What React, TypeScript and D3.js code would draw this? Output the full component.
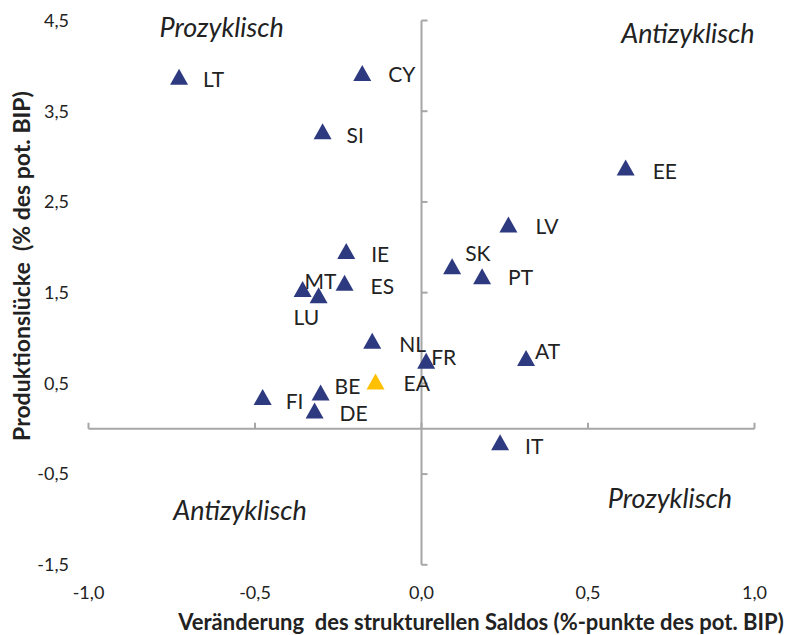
import * as d3 from "d3"

// country codes, x = change of structural balance, y = output gap
const countries = ["LT", "CY", "SI", "EE", "LV", "IE", "SK", "PT", "ES", "MT", "LU", "NL", "FR", "AT", "EA", "BE", "FI", "DE", "IT"]
const saldoChange = [-0.728, -0.178, -0.297, 0.613, 0.261, -0.226, 0.092, 0.182, -0.231, -0.357, -0.309, -0.148, 0.014, 0.314, -0.138, -0.303, -0.477, -0.321, 0.236]
const outputGap = [3.88, 3.92, 3.28, 2.88, 2.25, 1.96, 1.79, 1.68, 1.61, 1.54, 1.47, 0.97, 0.75, 0.78, 0.52, 0.40, 0.35, 0.20, -0.15]

const xTicks = [-1.0, -0.5, 0.0, 0.5, 1.0]
const yTicks = [4.5, 3.5, 2.5, 1.5, 0.5, -0.5, -1.5]

const quadrantNames = ["Prozyklisch", "Antizyklisch", "Antizyklisch", "Prozyklisch"]
const quadrantX = [-0.6, 0.8, -0.545, 0.746]
const quadrantY = [4.32, 4.25, -1.006, -0.874]

// label placement relative to marker centre (px)
const labelOffset: Record<string, [number, number]> = {
  LT: [24, 3], CY: [26, 2], SI: [24, 4], EE: [27, 4], LV: [27, 2],
  IE: [25, 4], SK: [13, -13], PT: [26, 1], ES: [26, 4], MT: [2, -7],
  LU: [-25, 22], NL: [27, 4], FR: [5, -3], AT: [9, -6], EA: [28, 2],
  BE: [14, -6], FI: [23, 5], DE: [25, 3], IT: [25, 4],
}

const width = 792
const height = 635
const font = "Lato, 'Open Sans', sans-serif"
const axisColor = "#a6a6a6"
const textColor = "#222"

export default function App() {
  const x = d3.scaleLinear().domain([-1, 1]).range([88.5, 754.5])
  const y = d3.scaleLinear().domain([-1.5, 4.5]).range([564.8, 20.5])
  const fmt = (v: number) => d3.format(".1f")(v).replace(".", ",").replace("−", "-")
  const tri = "M0,-8L9,8L-9,8Z"

  return (
    <div style={{ position: "absolute", left: 0, top: 0 }}>
      <svg width={width} height={height} style={{ display: "block", fontFamily: font }}>
        <rect width={width} height={height} fill="#fff" />

        {/* axes crossing at origin */}
        <line x1={x(-1)} x2={x(1)} y1={y(0)} y2={y(0)} stroke={axisColor} strokeWidth={2} />
        {xTicks.map(t => (
          <line key={"xt" + t} x1={x(t)} x2={x(t)} y1={y(0)} y2={y(0) - 6} stroke={axisColor} strokeWidth={2} />
        ))}
        <line x1={x(0)} x2={x(0)} y1={y(4.5)} y2={y(-1.5)} stroke={axisColor} strokeWidth={2} />
        {yTicks.map(t => (
          <line key={"yt" + t} x1={x(0)} x2={x(0) + 6} y1={y(t)} y2={y(t)} stroke={axisColor} strokeWidth={2} />
        ))}

        {/* tick labels, low position */}
        {yTicks.map(t => (
          <text key={"yl" + t} x={69} y={y(t)} dy="0.35em" textAnchor="end" fontSize={18} fill={textColor}>{fmt(t)}</text>
        ))}
        {xTicks.map(t => (
          <text key={"xl" + t} x={x(t)} y={593} dy="0.35em" textAnchor="middle" fontSize={18} fill={textColor}>{fmt(t)}</text>
        ))}

        {/* axis titles */}
        <text x={481} y={622} dy="0.35em" textAnchor="middle" fontSize={22} fontWeight="bold" fill={textColor} style={{ whiteSpace: "pre" }}>
          {"Veränderung  des strukturellen Saldos (%-punkte des pot. BIP)"}
        </text>
        <text transform="translate(22,266) rotate(-90)" dy="0.35em" textAnchor="middle" fontSize={23} fontWeight="bold" fill={textColor} style={{ whiteSpace: "pre" }}>
          {"Produktionslücke  (% des pot. BIP)"}
        </text>

        {/* quadrant annotations */}
        {quadrantNames.map((q, i) => (
          <text key={"q" + i} x={x(quadrantX[i])} y={y(quadrantY[i])} textAnchor="middle" fontSize={27} fontStyle="italic" fill={textColor}>{q}</text>
        ))}

        {/* markers */}
        {countries.map((c, i) => (
          <path key={"m" + c} d={tri} transform={`translate(${x(saldoChange[i])},${y(outputGap[i])})`} fill={c === "EA" ? "#ffc000" : "#2e3a80"} />
        ))}
        {countries.map((c, i) => {
          const [dx, dy] = labelOffset[c]
          return (
            <text key={"l" + c} x={x(saldoChange[i]) + dx} y={y(outputGap[i]) + dy} dy="0.35em" fontSize={21} fill={textColor}>{c}</text>
          )
        })}
      </svg>
    </div>
  )
}
